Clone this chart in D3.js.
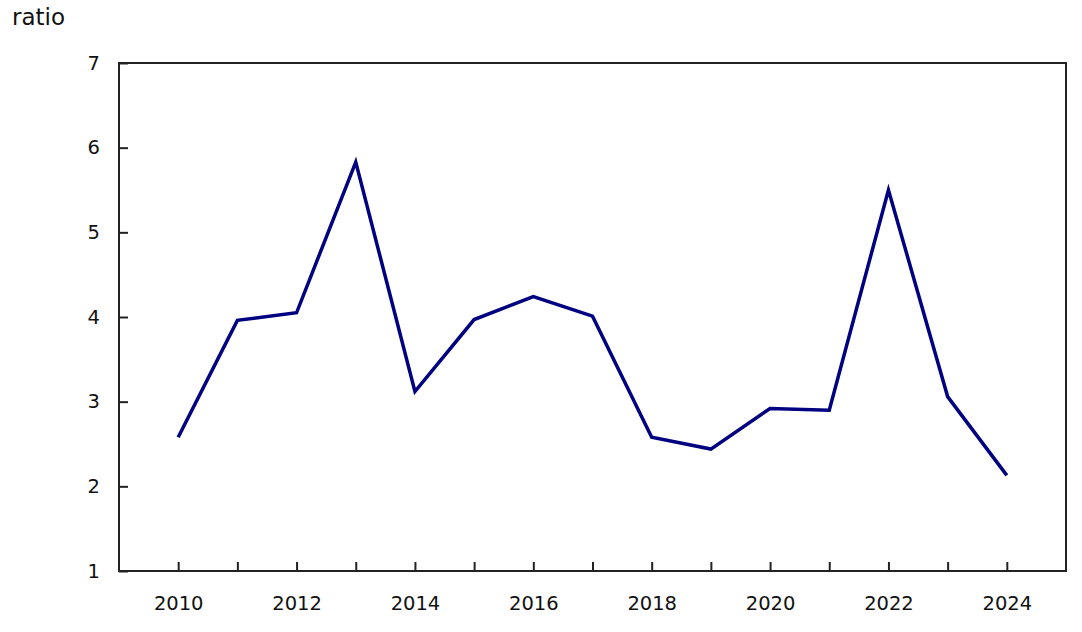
<!DOCTYPE html>
<html>
<head>
<meta charset="utf-8">
<script src="https://cdn.jsdelivr.net/npm/d3@7"></script>
<style>
  body { margin: 0; background: #fff; }
  svg text { font-family: "DejaVu Sans", Verdana, sans-serif; fill: #111; }
</style>
</head>
<body>
<svg id="chart"></svg>
<script>
const years = [2010, 2011, 2012, 2013, 2014, 2015, 2016, 2017, 2018, 2019, 2020, 2021, 2022, 2023, 2024];
const ratio = [2.58, 3.96, 4.05, 5.83, 3.12, 3.97, 4.24, 4.01, 2.58, 2.44, 2.92, 2.90, 5.50, 3.06, 2.13];
const yearTicks = [2010, 2012, 2014, 2016, 2018, 2020, 2022, 2024];
const ratioTicks = [1, 2, 3, 4, 5, 6, 7];

const W = 1082, H = 632;
const margin = { top: 63, right: 16, bottom: 61, left: 119 };
const width = W - margin.left - margin.right;
const height = H - margin.top - margin.bottom;

const svg = d3.select("#chart").attr("width", W).attr("height", H);
const g = svg.append("g").attr("transform", `translate(${margin.left},${margin.top})`);

const x = d3.scaleLinear().domain([2009, 2025]).range([0, width]);
const y = d3.scaleLinear().domain([1, 7]).range([height, 0]);

// frame
g.append("rect")
  .attr("width", width).attr("height", height)
  .attr("fill", "none").attr("stroke", "#222").attr("stroke-width", 2);

// x axis, ticks point inward
const xAxis = g.append("g")
  .attr("transform", `translate(0,${height})`)
  .call(d3.axisBottom(x).tickValues(years).tickSize(-9).tickSizeOuter(0)
    .tickFormat(d => yearTicks.includes(d) ? d : ""));
xAxis.select(".domain").remove();
xAxis.selectAll(".tick line").attr("stroke", "#222").attr("stroke-width", 2);
xAxis.selectAll(".tick text")
  .attr("y", 25).attr("dy", "0.71em")
  .style("font-size", "19.5px");

// y axis
const yAxis = g.append("g")
  .call(d3.axisLeft(y).tickValues(ratioTicks).tickSize(-9).tickSizeOuter(0).tickFormat(d3.format("d")));
yAxis.select(".domain").remove();
yAxis.selectAll(".tick line").attr("stroke", "#222").attr("stroke-width", 2);
yAxis.selectAll(".tick text")
  .attr("x", -19)
  .style("font-size", "19.5px");

// unit label
svg.append("text")
  .attr("x", 12).attr("y", 25)
  .style("font-size", "23px")
  .text("ratio");

// line
const line = d3.line()
  .x((d, i) => x(years[i]))
  .y(d => y(d));

g.append("path")
  .datum(ratio)
  .attr("fill", "none")
  .attr("stroke", "#000080")
  .attr("stroke-width", 3.5)
  .attr("stroke-linejoin", "miter")
  .attr("d", line);
</script>
</body>
</html>
